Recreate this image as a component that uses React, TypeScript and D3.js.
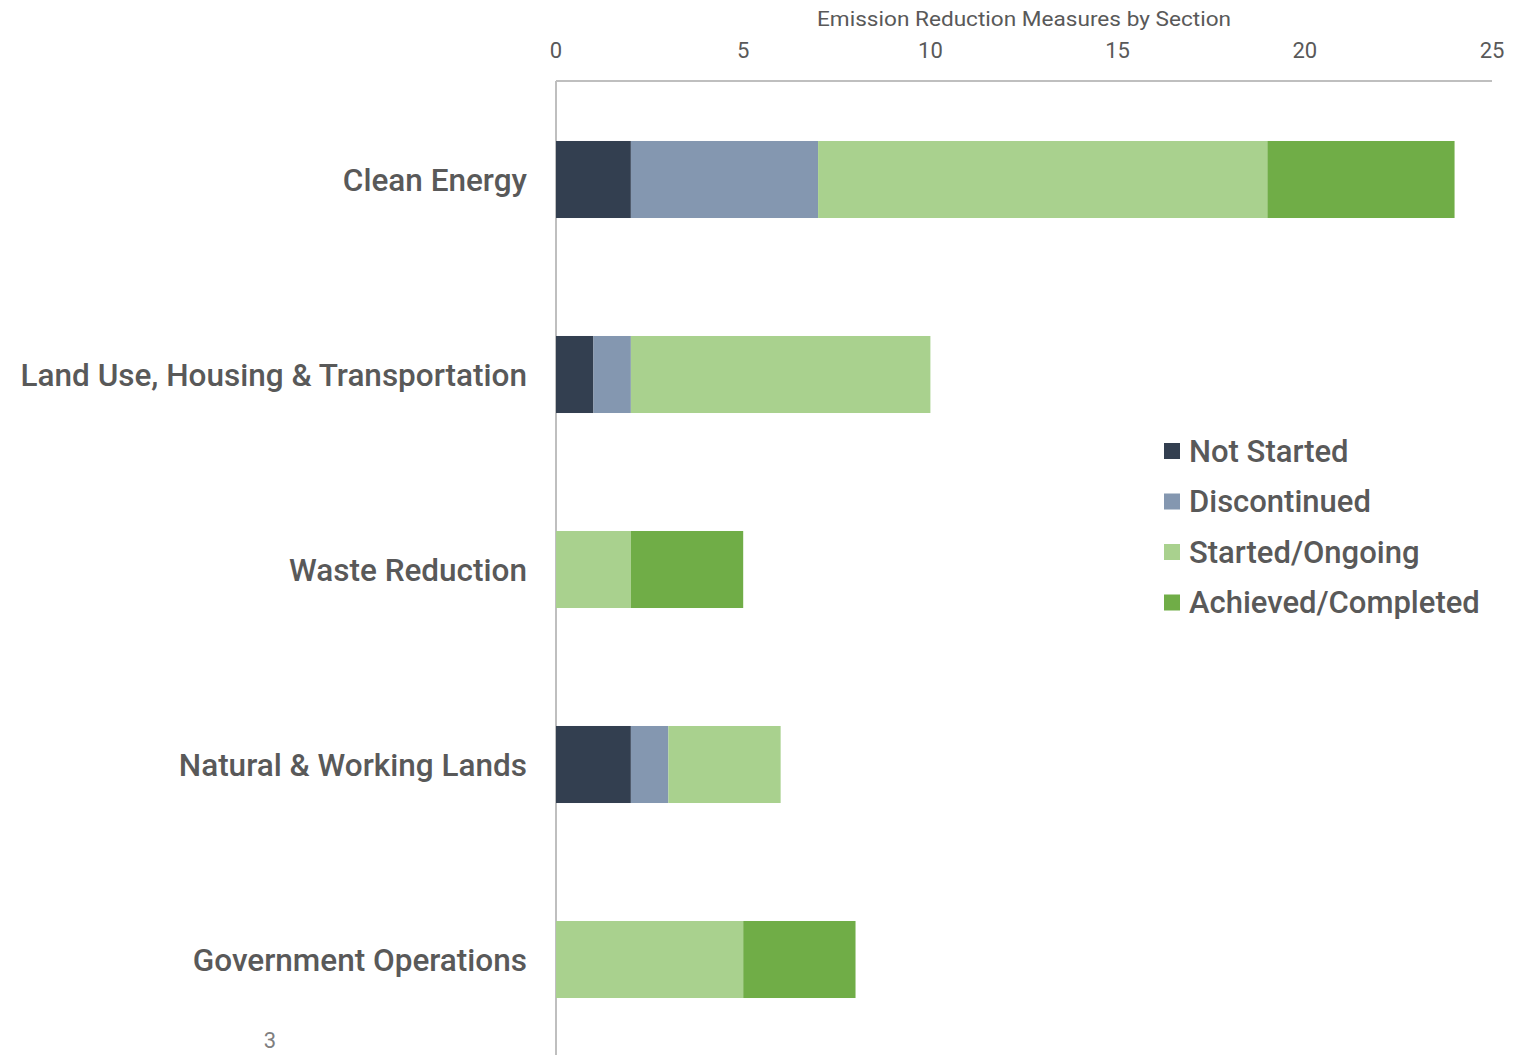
import React, { useEffect, useRef } from 'react';
import * as d3 from 'd3';

const sections = ['Clean Energy', 'Land Use, Housing & Transportation', 'Waste Reduction', 'Natural & Working Lands', 'Government Operations'];
const statuses = ['Not Started', 'Discontinued', 'Started/Ongoing', 'Achieved/Completed'];
const notStarted = [2, 1, 0, 2, 0];
const discontinued = [5, 1, 0, 1, 0];
const startedOngoing = [12, 8, 2, 3, 5];
const achievedCompleted = [5, 0, 3, 0, 3];
const xTicks = [0, 5, 10, 15, 20, 25];
const colors = ['#333f50', '#8497b0', '#a9d18e', '#70ad47'];

const W = 1516;
const H = 1055;

export default function App() {
  const ref = useRef<SVGSVGElement>(null);

  useEffect(() => {
    const svg = d3.select(ref.current);
    svg.selectAll('*').remove();

    const rows = sections.map((s, i) => ({
      section: s,
      'Not Started': notStarted[i],
      'Discontinued': discontinued[i],
      'Started/Ongoing': startedOngoing[i],
      'Achieved/Completed': achievedCompleted[i]
    }));
    const series = d3.stack<any>().keys(statuses)(rows);

    const x = d3.scaleLinear().domain([0, 25]).range([556, 1492]);
    const y = d3.scaleBand().domain(sections).range([82, 1057]).paddingInner(0.605).paddingOuter(0.3025);
    const color = d3.scaleOrdinal<string>().domain(statuses).range(colors);
    const font = 'Roboto, sans-serif';
    const textColor = '#595959';

    // title
    svg.append('text')
      .attr('x', 1024).attr('y', 26)
      .attr('text-anchor', 'middle')
      .attr('font-family', font).attr('font-size', 21)
      .attr('textLength', 414).attr('lengthAdjust', 'spacingAndGlyphs')
      .attr('fill', textColor)
      .text('Emission Reduction Measures by Section');

    // tick labels
    svg.append('g').selectAll('text').data(xTicks).join('text')
      .attr('x', d => x(d)).attr('y', 58)
      .attr('text-anchor', 'middle')
      .attr('font-family', font).attr('font-size', 22)
      .attr('fill', textColor)
      .text(d => d);

    // axis lines
    svg.append('line')
      .attr('x1', x(0)).attr('x2', x(25)).attr('y1', 81).attr('y2', 81)
      .attr('stroke', '#bfbfbf').attr('stroke-width', 2);
    svg.append('line')
      .attr('x1', x(0)).attr('x2', x(0)).attr('y1', 81).attr('y2', H)
      .attr('stroke', '#bfbfbf').attr('stroke-width', 2);

    // bars
    svg.append('g').selectAll('g').data(series).join('g')
      .attr('fill', d => color(d.key))
      .selectAll('rect').data(d => d).join('rect')
        .attr('x', d => x(d[0]))
        .attr('y', d => y(d.data.section)!)
        .attr('width', d => x(d[1]) - x(d[0]))
        .attr('height', y.bandwidth());

    // category labels
    svg.append('g').selectAll('text').data(sections).join('text')
      .attr('x', 527).attr('y', d => y(d)! + y.bandwidth() / 2)
      .attr('dy', '0.35em')
      .attr('text-anchor', 'end')
      .attr('font-family', font).attr('font-size', 31.5).attr('font-weight', 500)
      .attr('fill', textColor)
      .text(d => d);

    // legend
    const legend = svg.append('g').selectAll('g').data(statuses).join('g')
      .attr('transform', (d, i) => `translate(1164, ${451 + i * 50.5})`);
    legend.append('rect')
      .attr('x', 0).attr('y', -8).attr('width', 16).attr('height', 16)
      .attr('fill', d => color(d));
    legend.append('text')
      .attr('x', 25).attr('y', 0).attr('dy', '0.35em')
      .attr('font-family', font).attr('font-size', 31).attr('font-weight', 500)
      .attr('fill', textColor)
      .text(d => d);

    // page number
    svg.append('text')
      .attr('x', 270).attr('y', 1048)
      .attr('text-anchor', 'middle')
      .attr('font-family', font).attr('font-size', 22)
      .attr('fill', '#7f7f7f')
      .text('3');
  }, []);

  return (
    <svg ref={ref} width={W} height={H} style={{ position: 'absolute', left: 0, top: 0, background: '#fff' }} />
  );
}
